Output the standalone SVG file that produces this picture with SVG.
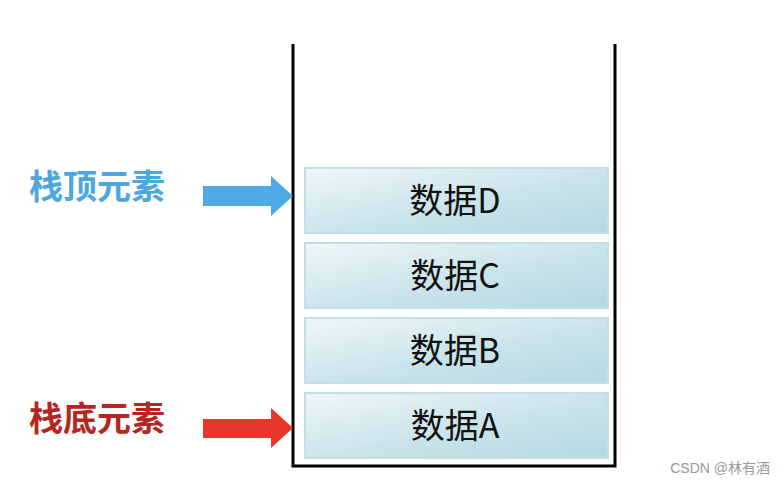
<svg xmlns="http://www.w3.org/2000/svg" width="784" height="484" viewBox="0 0 784 484">
<defs>
<linearGradient id="boxg" x1="0" y1="0" x2="1" y2="1">
<stop offset="0" stop-color="#eff7f9"/>
<stop offset="0.55" stop-color="#c9e3ea"/>
<stop offset="1" stop-color="#b5d8e1"/>
</linearGradient>
</defs>
<style>
.box{fill:url(#boxg);stroke:#c3dfe6;stroke-width:2}
.bt{font-family:"Noto Sans CJK SC","Noto Sans",sans-serif;font-size:34px;fill:#111;text-anchor:middle}
.lbl{font-family:"Noto Sans CJK SC",sans-serif;font-size:34px;font-weight:bold}
.wall{fill:none;stroke:#000;stroke-width:3}
</style>
<rect width="784" height="484" fill="#fff"/>
<g id="stack">
<polyline class="wall" points="293,44 293,466 615,466 615,44"/>
</g>
<g id="dataD"><rect class="box" x="305" y="168" width="303" height="65"/><text class="bt" x="455" y="213">数据D</text></g>
<g id="dataC"><rect class="box" x="305" y="243" width="303" height="65"/><text class="bt" x="455" y="288">数据C</text></g>
<g id="dataB"><rect class="box" x="305" y="318" width="303" height="65"/><text class="bt" x="455" y="363">数据B</text></g>
<g id="dataA"><rect class="box" x="305" y="393" width="303" height="65"/><text class="bt" x="455" y="438">数据A</text></g>
<g id="topLabel"><text class="lbl" x="29" y="199" fill="#4ea6e0">栈顶元素</text></g>
<g id="bottomLabel"><text class="lbl" x="29" y="431" fill="#b5261e">栈底元素</text></g>
<g id="connectors">
<polygon fill="#4eaae6" points="203,186 271,186 271,176 293,196 271,216 271,206 203,206"/>
<polygon fill="#e8372a" points="203,419 271,419 271,408 293,428 271,448 271,438 203,438"/>
</g>
<text x="770" y="473" font-family="'Liberation Sans','Noto Sans CJK SC',sans-serif" font-size="14" fill="#9a9a9a" text-anchor="end">CSDN @林有酒</text>
</svg>
